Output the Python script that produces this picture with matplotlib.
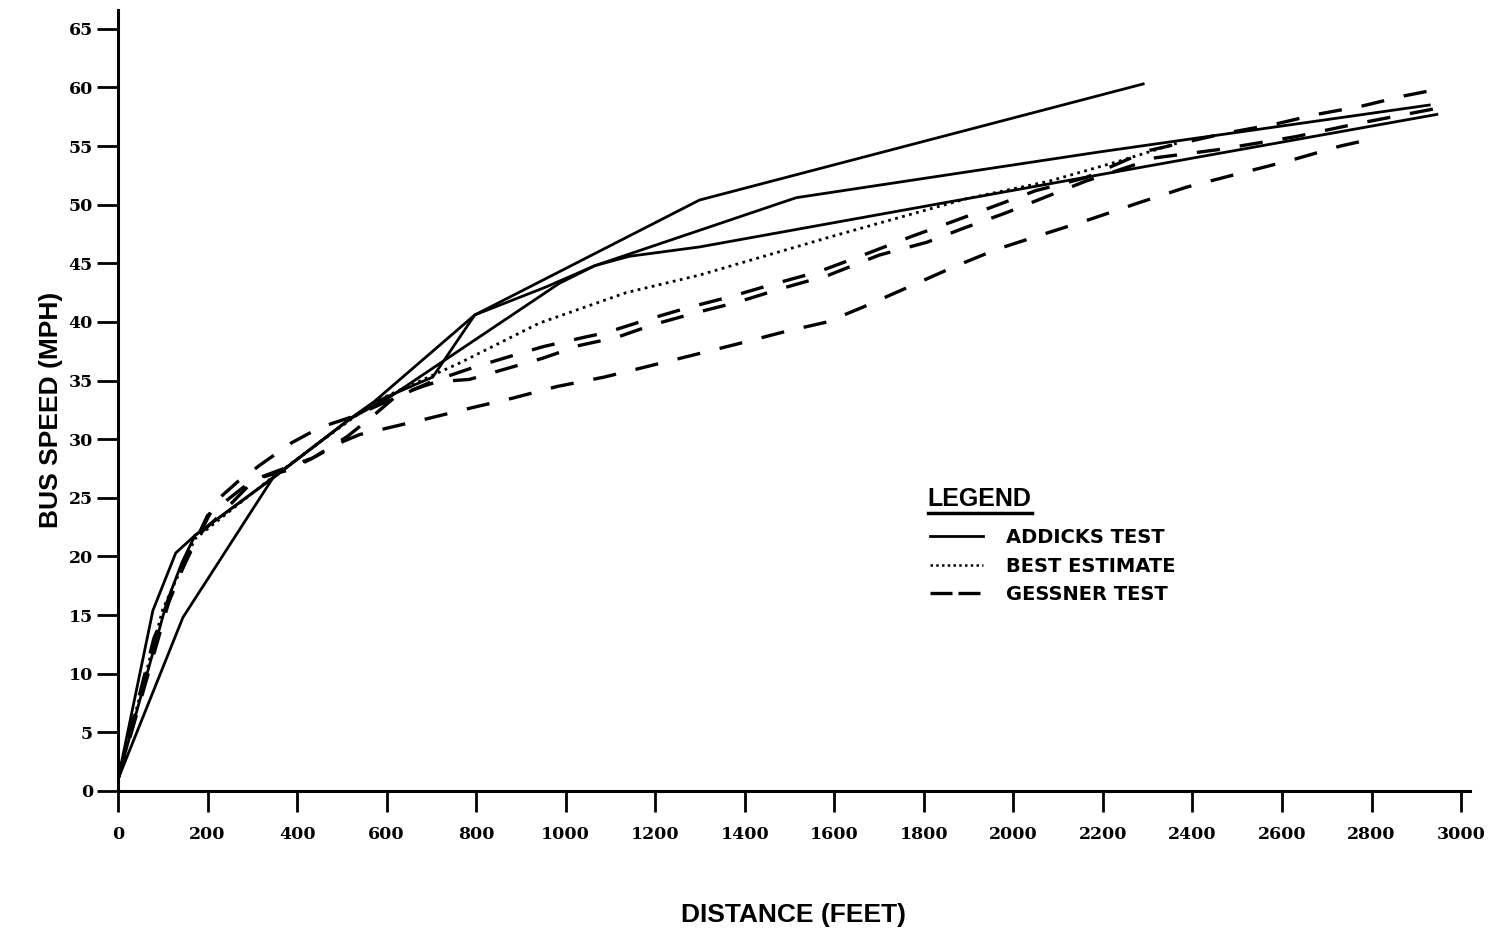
import matplotlib
matplotlib.use("Agg")
import matplotlib.pyplot as plt
from matplotlib.lines import Line2D

# --- Addicks test runs (solid) ---
addicks1_ft = [0, 78, 129, 172, 346, 517, 569, 797, 1299, 2290]
addicks1_mph = [1, 15.4, 20.3, 21.8, 26.7, 31.7, 33.1, 40.6, 50.4, 60.3]

addicks2_ft = [0, 109, 143, 172, 346, 517, 569, 703, 797, 957, 1065, 1515, 2192, 2929]
addicks2_mph = [1, 16.1, 19.5, 21.8, 26.7, 31.7, 33.1, 35.3, 40.6, 43.0, 44.8, 50.6, 54.5, 58.5]

addicks3_ft = [0, 145, 346, 517, 607, 986, 1065, 1142, 1299, 2199, 2946]
addicks3_mph = [1, 14.8, 26.7, 31.7, 33.6, 43.3, 44.8, 45.6, 46.4, 52.6, 57.7]

# --- Best estimate (dotted) ---
best_ft = [0, 100, 172, 346, 517, 584, 763, 941, 1135, 1299, 1595, 1894, 2079, 2235, 2370]
best_mph = [1, 15.5, 21.5, 26.8, 31.6, 33.4, 36.5, 39.9, 42.5, 44.0, 47.3, 50.5, 52.0, 53.7, 55.3]

# --- Gessner test runs (dashed) ---
gessner1_ft = [0, 80, 150, 190, 221, 268, 321, 388, 451, 522, 600, 700, 800, 870, 950,
               1042, 1091, 1182, 1271, 1372, 1461, 1566, 1671, 1773, 1860, 1952, 2050,
               2161, 2300, 2474, 2588, 2677, 2777, 2875, 2942]
gessner1_mph = [1, 13, 19.5, 22.5, 24.8, 26.4, 27.9, 29.7, 31.0, 31.9, 33.2, 34.9, 36.2, 37.0, 37.9,
                38.7, 39.1, 40.2, 41.2, 42.2, 43.2, 44.3, 45.8, 47.3, 48.5, 49.8, 51.2,
                52.3, 54.6, 56.1, 56.9, 57.7, 58.4, 59.3, 59.8]

gessner2_ft = [0, 100, 170, 216, 250, 306, 384, 435, 511, 570, 625, 712, 785, 857, 948,
               1031, 1115, 1198, 1292, 1385, 1477, 1588, 1700, 1807, 1889, 1983, 2068,
               2161, 2317, 2458, 2630, 2766, 2889, 2971]
gessner2_mph = [1, 15, 21.5, 23.1, 24.4, 26.6, 27.4, 28.4, 30.2, 32.0, 33.8, 34.9, 35.1, 35.9, 36.9,
                38.0, 38.7, 39.8, 40.8, 41.7, 42.8, 44.0, 45.7, 46.8, 48.0, 49.3, 50.6,
                52.0, 54.0, 54.7, 55.8, 56.9, 57.8, 58.4]

gessner3_ft = [0, 120, 200, 300, 406, 435, 502, 540, 618, 696, 792, 881, 981, 1086, 1182,
               1287, 1381, 1492, 1584, 1666, 1767, 1867, 1963, 2052, 2175, 2275, 2387,
               2498, 2621, 2730, 2800]
gessner3_mph = [1, 17, 23.5, 26.5, 28.0, 28.4, 29.8, 30.4, 31.1, 31.8, 32.7, 33.5, 34.5, 35.3, 36.2,
                37.2, 38.1, 39.2, 40.0, 41.3, 43.0, 44.7, 46.2, 47.3, 48.8, 50.1, 51.5,
                52.6, 53.8, 55.0, 55.6]

x_ticks = list(range(0, 3001, 200))
y_ticks = list(range(0, 66, 5))

fig = plt.figure(figsize=(14.88, 9.33), dpi=100)
ax = fig.add_axes([0.0793, 0.1522, 0.9086, 0.837])

solid = dict(color="black", linewidth=2.0, linestyle="-")
dashed = dict(color="black", linewidth=2.4, linestyle=(0, (7, 6)))
dotted = dict(color="black", linewidth=2.0, linestyle=(0, (1, 1.6)))

ax.plot(addicks1_ft, addicks1_mph, **solid)
ax.plot(addicks2_ft, addicks2_mph, **solid)
ax.plot(addicks3_ft, addicks3_mph, **solid)
ax.plot(best_ft, best_mph, **dotted)
ax.plot(gessner1_ft, gessner1_mph, **dashed)
ax.plot(gessner2_ft, gessner2_mph, **dashed)
ax.plot(gessner3_ft, gessner3_mph, **dashed)

ax.set_xlim(0, 3020)
ax.set_ylim(0, 66.6)
ax.set_xticks(x_ticks)
ax.set_yticks(y_ticks)

for s in ["top", "right"]:
    ax.spines[s].set_visible(False)
for s in ["left", "bottom"]:
    ax.spines[s].set_linewidth(2.2)

ax.tick_params(axis="both", direction="out", length=15, width=2)
ax.tick_params(axis="x", pad=10)
ax.tick_params(axis="y", pad=3)
for lab in ax.get_xticklabels() + ax.get_yticklabels():
    lab.set_fontfamily("DejaVu Serif")
    lab.set_fontweight("bold")
    lab.set_fontsize(12.5)

ax.set_xlabel("DISTANCE (FEET)", fontfamily="Liberation Sans", fontweight="bold",
              fontsize=19, va="top")
ax.xaxis.set_label_coords(0.5, -0.143)
ax.set_ylabel("BUS SPEED (MPH)", fontfamily="Liberation Sans", fontweight="bold", fontsize=19)
ax.yaxis.set_label_coords(-0.041, 0.488)

# legend (proxy handles so the short samples look like the printed key)
h_add = Line2D([], [], color="black", linewidth=2.0)
h_best = Line2D([], [], color="black", linewidth=1.8, linestyle=(0, (1, 1.3)))
h_ges = Line2D([], [], color="black", linewidth=2.4, linestyle=(0, (6.6, 1.8)))
leg = ax.legend([h_add, h_best, h_ges], ["ADDICKS TEST", "BEST ESTIMATE", "GESSNER TEST"],
                loc="upper left", bbox_to_anchor=(0.6006, 0.337), frameon=False,
                borderpad=0, borderaxespad=0, handlelength=2.7, handletextpad=1.2,
                labelspacing=0.5, prop={"family": "DejaVu Sans", "weight": "bold", "size": 14})

title = ax.text(0.599, 0.365, "LEGEND", transform=ax.transAxes, ha="left", va="baseline",
                fontfamily="Liberation Sans", fontweight="bold", fontsize=18)

# underline the legend title
fig.canvas.draw()
bb = title.get_window_extent().transformed(ax.transAxes.inverted())
ax.plot([bb.x0, bb.x1], [bb.y0 - 0.002, bb.y0 - 0.002], transform=ax.transAxes,
        color="black", linewidth=2.5, clip_on=False)

fig.savefig("out.png", dpi=100)
